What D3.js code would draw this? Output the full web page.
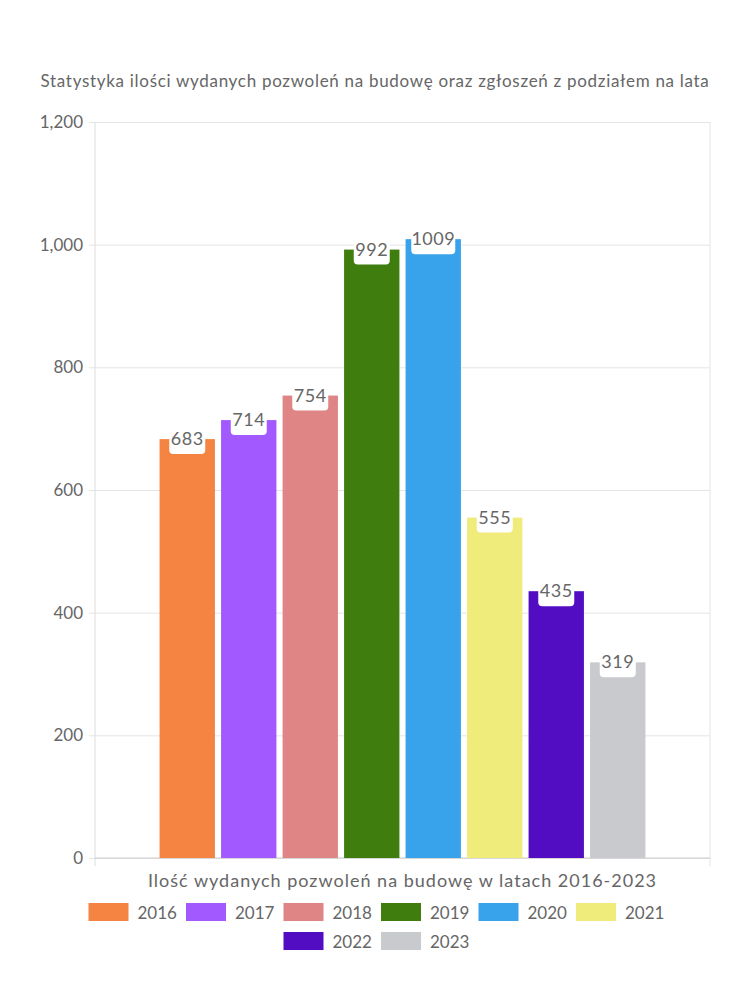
<!DOCTYPE html>
<html>
<head>
<meta charset="utf-8">
<script src="https://cdn.jsdelivr.net/npm/d3@7"></script>
<style>
	body { margin:0; background:#fff; }
	text { font-family: "Lato", "Noto Sans", sans-serif; fill:#666; }
</style>
</head>
<body>
<div id="chart"></div>
<script>

var years = ["2016","2017","2018","2019","2020","2021","2022","2023"]
var values = [683, 714, 754, 992, 1009, 555, 435, 319]
var colors = ["#F58442","#A259FF","#E08585","#3E7D0E","#38A3EB","#F0EC7C","#520DC2","#C9CACE"]
var yTicks = [0, 200, 400, 600, 800, 1000, 1200]

var title = "Statystyka ilości wydanych pozwoleń na budowę oraz zgłoszeń z podziałem na lata"
var xTitle = "Ilość wydanych pozwoleń na budowę w latach 2016-2023"

var width = 750, height = 1000
var margin = {top: 122, right: 40, bottom: 142, left: 95}
var w = width - margin.left - margin.right
var h = height - margin.top - margin.bottom

var svg = d3.select("#chart").append("svg")
	.attr("width", width)
	.attr("height", height)

svg.append("text")
	.attr("x", width / 2)
	.attr("y", 87)
	.attr("text-anchor", "middle")
	.style("font-size", "17px")
	.style("letter-spacing", "0.7px")
	.text(title)

var features = svg.append("g").attr("transform", "translate(" + margin.left + "," + margin.top + ")")

var y = d3.scaleLinear().domain([0, 1200]).range([h, 0])

// one category, bars take 80% of it, each bar 90% of its slot
var x = d3.scaleBand().domain(years)
	.range([w * 0.1, w * 0.9])
	.paddingInner(0.1)
	.paddingOuter(0.05)

var yAxis = d3.axisLeft(y).tickValues(yTicks).tickFormat(d3.format(",")).tickSize(-w).tickPadding(12)

var gy = features.append("g").attr("class", "y grid").call(yAxis)
gy.select(".domain").remove()
gy.selectAll(".tick line").attr("stroke", "#e5e5e5").attr("x1", -6)
gy.selectAll(".tick text").style("font-size", "17px").attr("fill", "#666")

// frame lines
features.append("line").attr("x1", 0).attr("x2", 0).attr("y1", 0).attr("y2", h + 8).attr("stroke", "#ddd")
features.append("line").attr("x1", w).attr("x2", w).attr("y1", 0).attr("y2", h + 8).attr("stroke", "#e5e5e5")
features.append("line").attr("x1", 0).attr("x2", w).attr("y1", h).attr("y2", h).attr("stroke", "#ccc")

features.selectAll(".bar")
	.data(values)
	.enter().append("rect")
	.attr("class", "bar")
	.attr("x", function(d, i) { return x(years[i]) })
	.attr("y", function(d) { return y(d) })
	.attr("width", x.bandwidth())
	.attr("height", function(d) { return h - y(d) })
	.style("fill", function(d, i) { return colors[i] })

var labels = features.selectAll(".lbl")
	.data(values)
	.enter().append("g")
	.attr("class", "lbl")
	.attr("transform", function(d, i) { return "translate(" + (x(years[i]) + x.bandwidth() / 2) + "," + y(d) + ")" })

labels.append("rect")
	.attr("x", function(d) { return d >= 1000 ? -22 : -18 })
	.attr("y", -12)
	.attr("width", function(d) { return d >= 1000 ? 44 : 36 })
	.attr("height", 27)
	.attr("rx", 4)
	.style("fill", "#fff")

labels.append("text")
	.attr("text-anchor", "middle")
	.attr("y", 6)
	.style("font-size", "18px")
	.style("letter-spacing", "0.5px")
	.text(function(d) { return d })

svg.append("text")
	.attr("x", margin.left + w / 2)
	.attr("y", 887)
	.attr("text-anchor", "middle")
	.style("font-size", "18px")
	.style("letter-spacing", "1px")
	.text(xTitle)

// legend, two centred rows
var rows = [years.slice(0, 6), years.slice(6)]
var itemW = 97.5

rows.forEach(function(row, r) {
	var rowW = row.length * itemW - 12
	var startX = (width - rowW) / 2
	var g = svg.append("g").attr("transform", "translate(" + startX + "," + (903 + r * 29) + ")")
	row.forEach(function(yr, j) {
		var idx = years.indexOf(yr)
		g.append("rect")
			.attr("x", j * itemW)
			.attr("y", 0)
			.attr("width", 40)
			.attr("height", 18)
			.style("fill", colors[idx])
		g.append("text")
			.attr("x", j * itemW + 49)
			.attr("y", 16)
			.style("font-size", "17px")
			.text(yr)
	})
})

</script>
</body>
</html>
